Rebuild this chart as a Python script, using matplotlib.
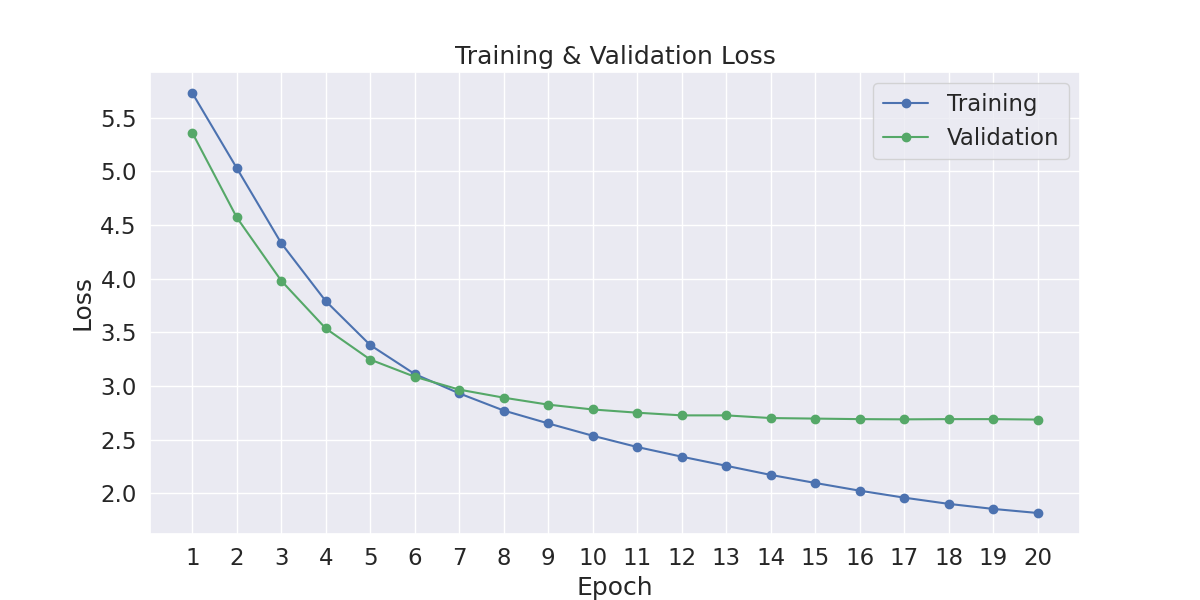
import matplotlib
matplotlib.use("Agg")
import matplotlib.pyplot as plt
import seaborn as sns

epochs = list(range(1, 21))
train_loss = [5.73, 5.03, 4.33, 3.79, 3.38, 3.11, 2.93, 2.77, 2.65, 2.535,
              2.43, 2.34, 2.255, 2.17, 2.095, 2.023, 1.958, 1.90, 1.853, 1.815]
val_loss = [5.36, 4.57, 3.98, 3.535, 3.245, 3.085, 2.965, 2.89, 2.825, 2.78,
            2.75, 2.725, 2.725, 2.70, 2.695, 2.69, 2.688, 2.69, 2.69, 2.686]

sns.set_theme(style="darkgrid", font_scale=1.5)

fig, ax = plt.subplots(figsize=(12, 6), dpi=100)
ax.plot(epochs, train_loss, "o-", color="#4C72B0", label="Training")
ax.plot(epochs, val_loss, "o-", color="#55A868", label="Validation")

ax.set_title("Training & Validation Loss")
ax.set_xlabel("Epoch")
ax.set_ylabel("Loss")
ax.set_xticks(epochs)
ax.legend(loc="upper right")

plt.savefig("out.png")
